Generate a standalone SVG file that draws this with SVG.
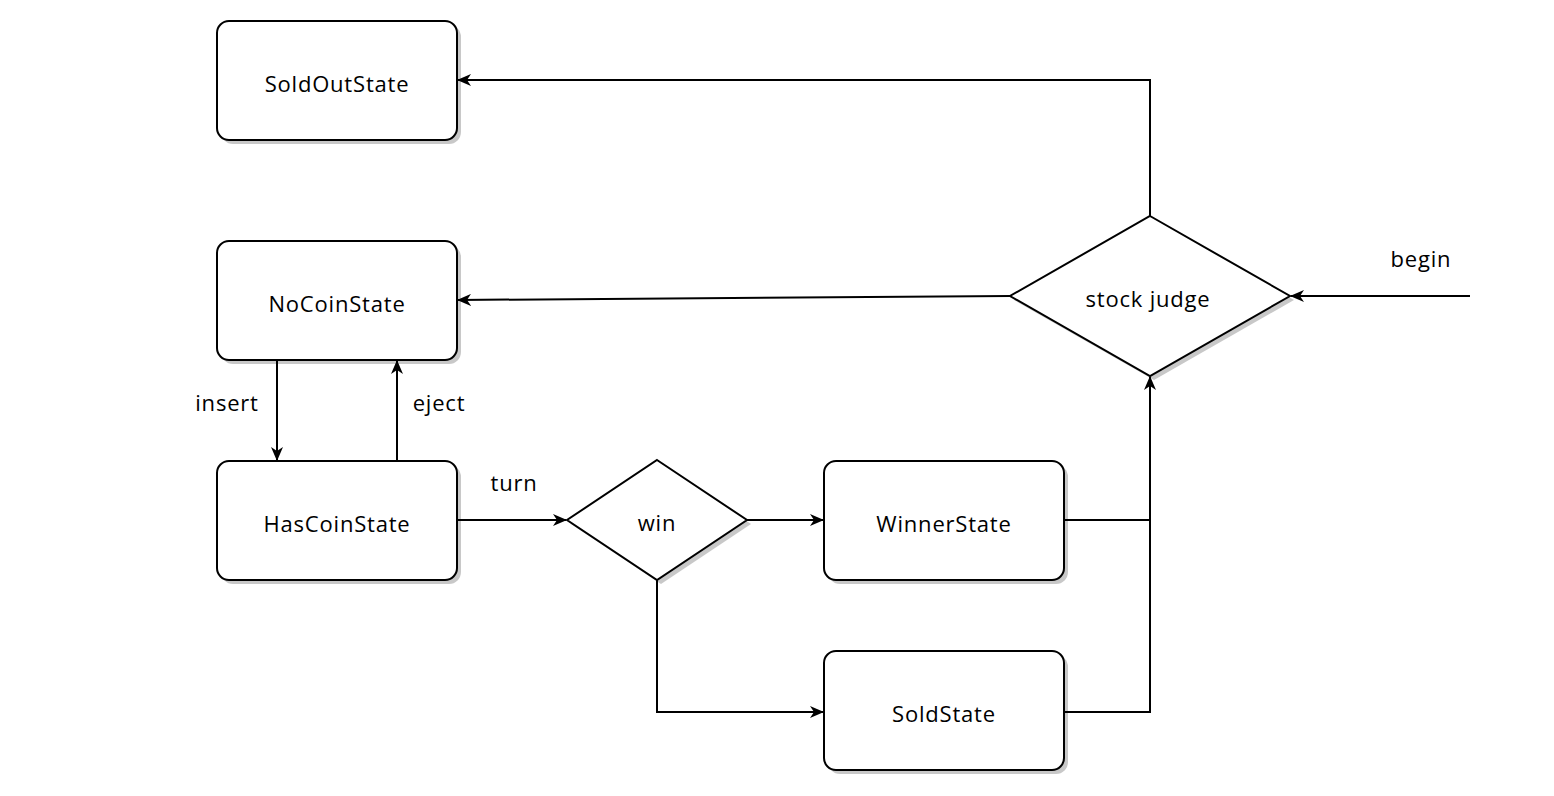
<svg xmlns="http://www.w3.org/2000/svg" width="1554" height="796" viewBox="0 0 1554 796">
<defs>
<marker id="arr" viewBox="0 0 14 12" refX="13" refY="6" markerWidth="14" markerHeight="12" markerUnits="userSpaceOnUse" orient="auto">
<path d="M0,0 L14,6 L0,12 L4,6 Z" fill="#000"/>
</marker>
</defs>
<style>
.box{fill:#fff;stroke:#000;stroke-width:2}
.sh{fill:#c8c8c8;stroke:none}
.t{font-family:"Comic Sans MS","Open Sans","DejaVu Sans",sans-serif;font-size:22px;letter-spacing:0.8px;fill:#000;text-anchor:middle;dominant-baseline:central}
.c{fill:none;stroke:#000;stroke-width:2}
</style>
<rect width="1554" height="796" fill="#fff"/>
<g id="SoldOutState">
<rect class="sh" x="221" y="25" width="240" height="119" rx="12"/>
<rect class="box" x="217" y="21" width="240" height="119" rx="12"/>
<text class="t" x="337" y="83">SoldOutState</text>
</g>
<g id="NoCoinState">
<rect class="sh" x="221" y="245" width="240" height="119" rx="12"/>
<rect class="box" x="217" y="241" width="240" height="119" rx="12"/>
<text class="t" x="337" y="303">NoCoinState</text>
</g>
<g id="HasCoinState">
<rect class="sh" x="221" y="465" width="240" height="119" rx="12"/>
<rect class="box" x="217" y="461" width="240" height="119" rx="12"/>
<text class="t" x="337" y="523">HasCoinState</text>
</g>
<g id="WinnerState">
<rect class="sh" x="828" y="465" width="240" height="119" rx="12"/>
<rect class="box" x="824" y="461" width="240" height="119" rx="12"/>
<text class="t" x="944" y="523">WinnerState</text>
</g>
<g id="SoldState">
<rect class="sh" x="828" y="655" width="240" height="119" rx="12"/>
<rect class="box" x="824" y="651" width="240" height="119" rx="12"/>
<text class="t" x="944" y="713">SoldState</text>
</g>
<g id="win">
<polygon class="sh" points="661,464 751,524 661,584 571,524"/>
<polygon class="box" points="657,460 747,520 657,580 567,520"/>
<text class="t" x="657" y="522">win</text>
</g>
<g id="stockJudge">
<polygon class="sh" points="1154,220 1294,300 1154,380 1014,300"/>
<polygon class="box" points="1150,216 1290,296 1150,376 1010,296"/>
<text class="t" x="1148" y="298">stock judge</text>
</g>
<g id="connectors">
<path class="c" d="M1150,216 L1150,80 L458,80" marker-end="url(#arr)"/>
<path class="c" d="M1010,296 L458,300" marker-end="url(#arr)"/>
<path class="c" d="M1470,296 L1291,296" marker-end="url(#arr)"/>
<path class="c" d="M277,360 L277,460" marker-end="url(#arr)"/>
<path class="c" d="M397,461 L397,361" marker-end="url(#arr)"/>
<path class="c" d="M457,520 L566,520" marker-end="url(#arr)"/>
<path class="c" d="M747,520 L823,520" marker-end="url(#arr)"/>
<path class="c" d="M657,580 L657,712 L823,712" marker-end="url(#arr)"/>
<path class="c" d="M1064,520 L1150,520 L1150,377" marker-end="url(#arr)"/>
<path class="c" d="M1064,712 L1150,712 L1150,520"/>
</g>
<g id="labels">
<text class="t" x="1421" y="258">begin</text>
<text class="t" x="227" y="402">insert</text>
<text class="t" x="439" y="402">eject</text>
<text class="t" x="514" y="482">turn</text>
</g>
</svg>
